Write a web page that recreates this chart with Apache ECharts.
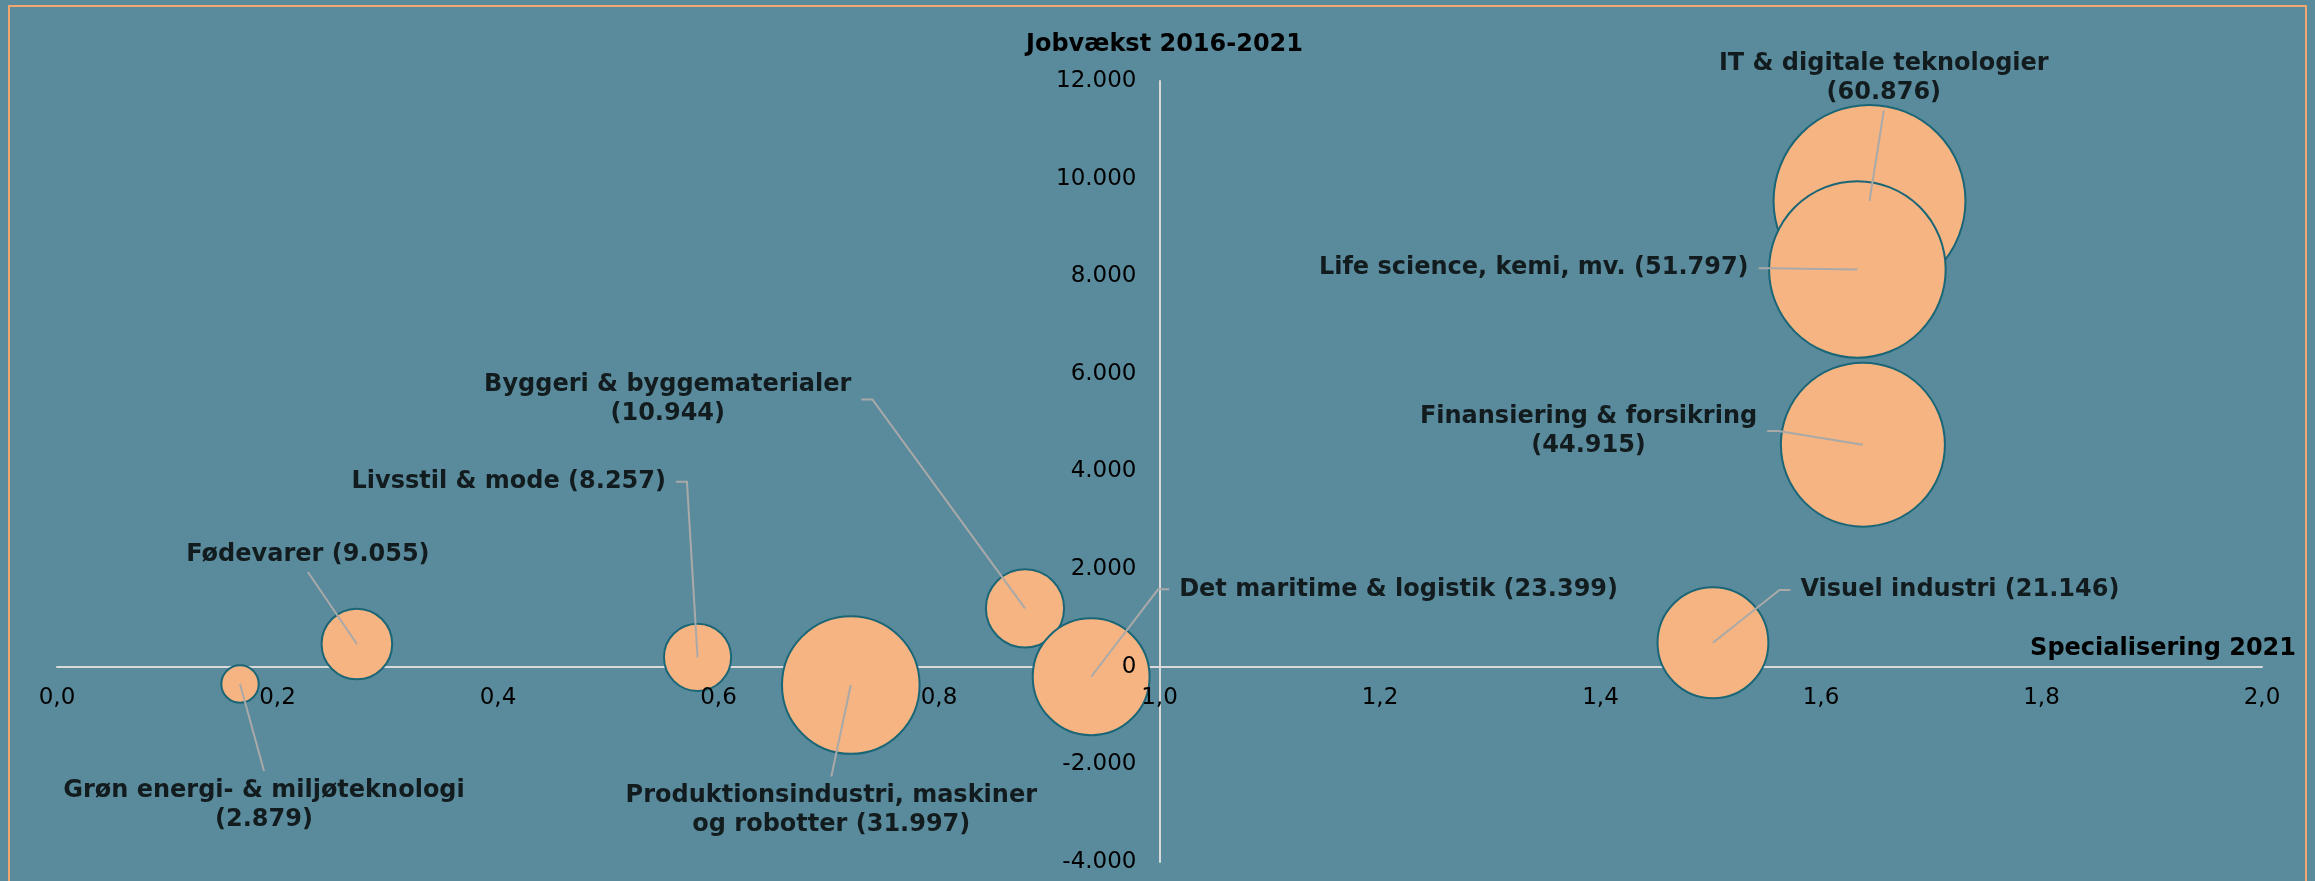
<!DOCTYPE html>
<html>
<head>
<meta charset="utf-8">
<title>Specialisering og jobvækst</title>
<script src="https://cdn.jsdelivr.net/npm/echarts@6/dist/echarts.min.js"></script>
<style>
  html, body { margin: 0; padding: 0; background: #5a8b9c; }
  #main { width: 2315px; height: 881px; }
</style>
</head>
<body>
<div id="main"></div>
<script>
// erhvervsområder, i tegne-rækkefølge
var names = [
  'Grøn energi- & miljøteknologi',
  'Fødevarer',
  'Livsstil & mode',
  'Produktionsindustri, maskiner\nog robotter',
  'Byggeri & byggematerialer',
  'Det maritime & logistik',
  'Visuel industri',
  'IT & digitale teknologier',
  'Life science, kemi, mv.',
  'Finansiering & forsikring'
];
var special = [0.166, 0.272, 0.581, 0.720, 0.878, 0.938, 1.502, 1.644, 1.633, 1.638]; // Specialisering 2021
var growth  = [-355, 465, 193, -375, 1197, -205, 492, 9545, 8140, 4550];              // Jobvækst 2016-2021
var jobs    = [2879, 9055, 8257, 31997, 10944, 23399, 21146, 60876, 51797, 44915];     // beskæftigede (boblestørrelse)

var xMin = 0, xMax = 2, xStep = 0.2;
var yMin = -4000, yMax = 12000, yStep = 2000;
var yCross = 1.0; // y-aksen krydser ved specialisering 1,0
var xCross = 0;   // x-aksen krydser ved jobvækst 0

// placering af dataetiketter: ankerpunkt på etikettens kant, relativt til boblens centrum
var spots = [
  { side: 'top',    ax: 24,     ay: 92,     brk: true },
  { side: 'bottom', ax: -49,    ay: -75,    brk: false },
  { side: 'right',  ax: -31.6,  ay: -175.6, brk: false },
  { side: 'top',    ax: -19.5,  ay: 96.5,   brk: false },
  { side: 'right',  ax: -173.6, ay: -208.8, brk: true },
  { side: 'left',   ax: 88,     ay: -87.4,  brk: false },
  { side: 'left',   ax: 87.5,   ay: -52.7,  brk: false },
  { side: 'bottom', ax: 14.3,   ay: -93.2,  brk: true },
  { side: 'right',  ax: -108.8, ay: -1.2,   brk: false },
  { side: 'right',  ax: -105.7, ay: -13.7,  brk: true }
];

function dk(n) {
  var s = String(Math.abs(Math.round(n))).replace(/\B(?=(\d{3})+(?!\d))/g, '.');
  return (n < 0 ? '-' : '') + s;
}

var points = names.map(function (n, i) {
  return [special[i], growth[i], jobs[i], n];
});

var font = 'DejaVu Sans';
var chart = echarts.init(document.getElementById('main'));

var gridLeft = 57, gridRight = 53, gridTop = 81, gridBottom = 19;
var plotW = chart.getWidth() - gridLeft - gridRight;
var plotH = chart.getHeight() - gridTop - gridBottom;
var yOffset = -plotW * (yCross - xMin) / (xMax - xMin);
var xOffset = -plotH * (xCross - yMin) / (yMax - yMin);

function bubbleSize(v) {
  return 0.8 * Math.sqrt(v[2]) - 5.5;
}

// ledelinje: fra boblens centrum til etikettens kant (med lille vandret stump ved sideetiketter)
function leaderPoints(s, cx, cy) {
  var px = cx + s.ax, py = cy + s.ay, gap = 10, stub = 11;
  if (s.side === 'right') return [[cx, cy], [px + gap + stub, py], [px + gap, py]];
  if (s.side === 'left') return [[cx, cy], [px - gap - stub, py], [px - gap, py]];
  if (s.side === 'top') return [[cx, cy], [px, py - 5]];
  return [[cx, cy], [px, py + 3]];
}

var tickLabel = { color: '#000', fontFamily: font, fontSize: 23 };
var hidden = 'rgba(0,0,0,0)';

var option = {
  backgroundColor: '#5a8b9c',
  animation: false,
  graphic: [{
    type: 'rect',
    shape: { x: 9, y: 6, width: 2297, height: 900 },
    style: { fill: 'none', stroke: '#f0a870', lineWidth: 2 },
    silent: true
  }],
  grid: {
    left: gridLeft, right: gridRight, top: gridTop, bottom: gridBottom,
    containLabel: false, outerBoundsMode: 'none'
  },
  xAxis: [{
    type: 'value', min: xMin, max: xMax, interval: xStep, position: 'bottom',
    axisLine: { onZero: true, onZeroAxisIndex: 0, lineStyle: { color: '#d9d9d9', width: 2 } },
    axisTick: { show: false }, axisLabel: { show: false }, splitLine: { show: false },
    z: 0
  }, {
    type: 'value', min: xMin, max: xMax, interval: xStep, position: 'bottom', offset: xOffset,
    axisLine: { show: false, onZero: false },
    axisTick: { show: false }, splitLine: { show: false },
    axisLabel: Object.assign({
      margin: 20,
      formatter: function (v) { return v.toFixed(1).replace('.', ','); }
    }, tickLabel),
    name: 'Specialisering 2021',
    nameLocation: 'end',
    nameGap: 34,
    nameMoveOverlap: false,
    nameTextStyle: {
      color: '#000', fontFamily: font, fontSize: 24, fontWeight: 'bold',
      lineHeight: 24, align: 'right', verticalAlign: 'bottom', padding: [0, 0, 6, 0]
    },
    z: 5
  }],
  yAxis: [{
    type: 'value', min: yMin, max: yMax, interval: yStep, position: 'left', offset: yOffset,
    axisLine: { show: true, onZero: false, lineStyle: { color: '#d9d9d9', width: 2 } },
    axisTick: { show: false }, axisLabel: { show: false }, splitLine: { show: false },
    z: 0
  }, {
    type: 'value', min: yMin, max: yMax, interval: yStep, position: 'left', offset: yOffset,
    axisLine: { show: false, onZero: false },
    axisTick: { show: false }, splitLine: { show: false },
    axisLabel: Object.assign({ margin: 23, formatter: dk }, tickLabel),
    name: 'Jobvækst 2016-2021',
    nameLocation: 'end',
    nameGap: 36,
    nameMoveOverlap: false,
    nameTextStyle: {
      color: '#000', fontFamily: font, fontSize: 24, fontWeight: 'bold',
      align: 'center', verticalAlign: 'middle', padding: [0, 0, 0, 10]
    },
    z: 5
  }],
  series: [{
    name: 'bobler',
    type: 'scatter',
    data: points,
    symbol: 'circle',
    symbolSize: bubbleSize,
    itemStyle: { color: '#f5b482', borderColor: '#1a6677', borderWidth: 2, opacity: 1 },
    emphasis: { disabled: true },
    z: 2
  }, {
    name: 'ledelinjer',
    type: 'custom',
    data: points,
    silent: true,
    z: 3,
    renderItem: function (params, api) {
      var c = api.coord([api.value(0), api.value(1)]);
      return {
        type: 'polyline',
        shape: { points: leaderPoints(spots[params.dataIndex], c[0], c[1]) },
        style: { stroke: '#a9a9a9', lineWidth: 2, fill: null }
      };
    }
  }, {
    // gennemsigtige kopier der bærer etiketterne, så de ligger over alle bobler
    name: 'etiketter',
    type: 'scatter',
    data: points,
    symbol: 'circle',
    symbolSize: bubbleSize,
    itemStyle: { color: hidden },
    silent: true,
    emphasis: { disabled: true },
    z: 4,
    label: {
      show: true,
      color: '#000',
      fontFamily: font,
      fontSize: 24,
      fontWeight: 'bold',
      lineHeight: 29,
      align: 'center',
      formatter: function (p) {
        var s = spots[p.dataIndex];
        return p.data[3] + (s.brk ? '\n' : ' ') + '(' + dk(p.data[2]) + ')';
      }
    },
    labelLayout: function (p) {
      var s = spots[p.dataIndex];
      var cx = p.rect.x + p.rect.width / 2;
      var cy = p.rect.y + p.rect.height / 2;
      var w = p.labelRect.width, h = p.labelRect.height;
      var px = cx + s.ax, py = cy + s.ay;
      var x = px, y = py;
      if (s.side === 'right') x = px - w / 2;
      else if (s.side === 'left') x = px + w / 2;
      else if (s.side === 'top') y = py + h / 2;
      else y = py - h / 2;
      return { x: x, y: y, align: 'center', verticalAlign: 'middle' };
    }
  }]
};

chart.setOption(option);
</script>
</body>
</html>
